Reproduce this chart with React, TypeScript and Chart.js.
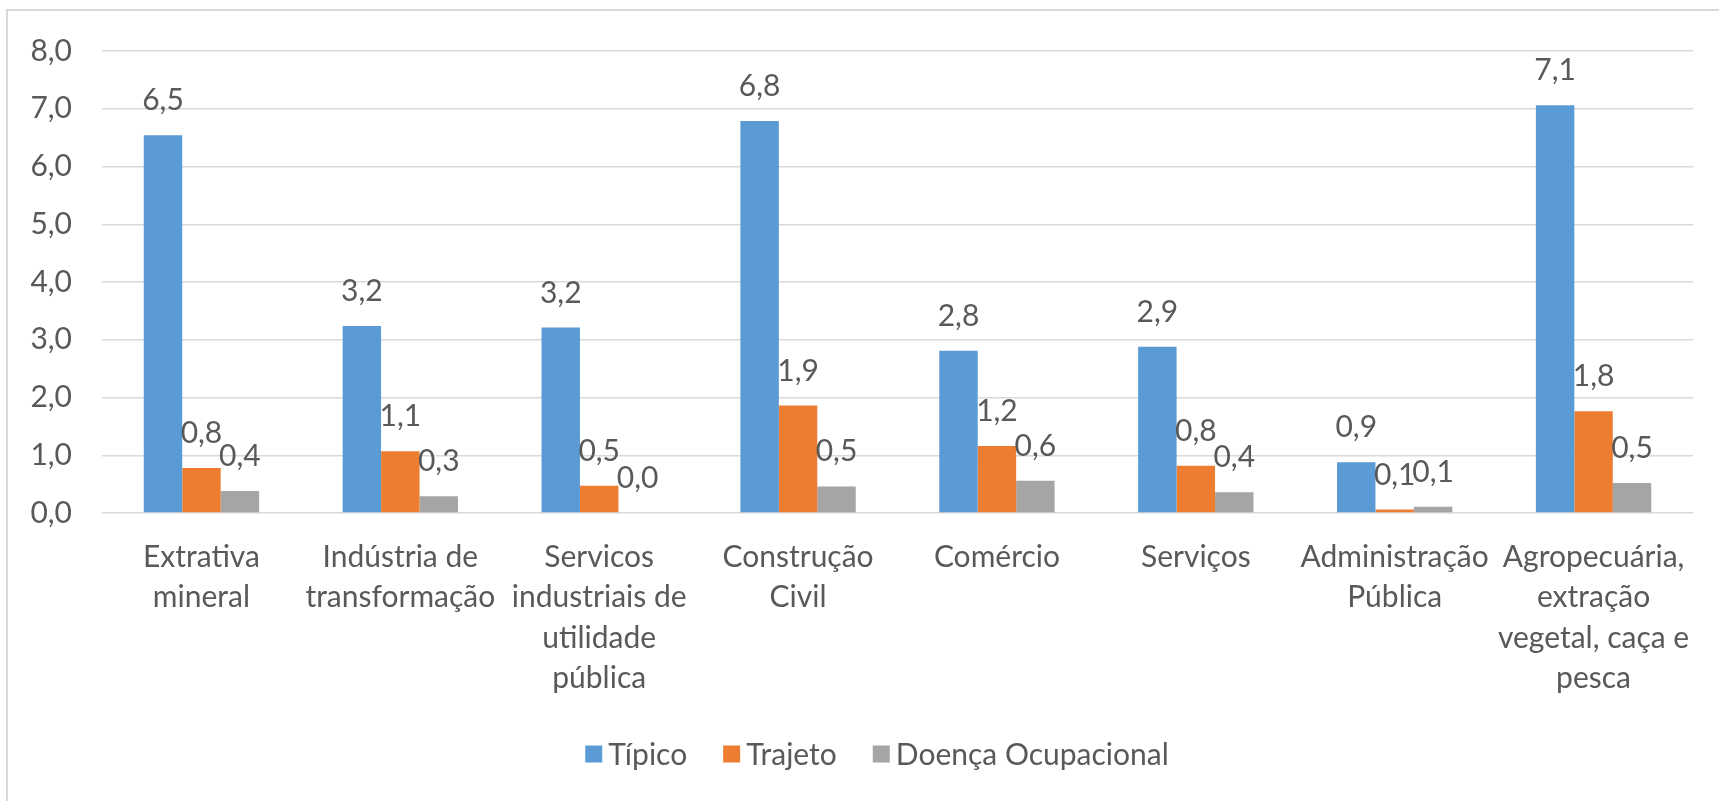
import React, { useEffect, useRef } from "react";
import { Chart, registerables } from "chart.js";

Chart.register(...registerables);

// ---- data ----
const categories: string[][] = [
  ["Extrativa", "mineral"],
  ["Indústria de", "transformação"],
  ["Servicos", "industriais de", "utilidade", "pública"],
  ["Construção", "Civil"],
  ["Comércio"],
  ["Serviços"],
  ["Administração", "Pública"],
  ["Agropecuária,", "extração", "vegetal, caça e", "pesca"],
];
const seriesNames = ["Típico", "Trajeto", "Doença Ocupacional"];
const tipico = [6.54, 3.24, 3.21, 6.79, 2.81, 2.88, 0.88, 7.06];
const trajeto = [0.78, 1.07, 0.47, 1.86, 1.16, 0.82, 0.06, 1.76];
const doenca = [0.38, 0.29, 0.0, 0.46, 0.56, 0.36, 0.11, 0.52];
const yMin = 0;
const yMax = 8;
const yStep = 1;
const seriesColors = ["#5B9BD5", "#ED7D31", "#A5A5A5"];

const FONT = "Lato, 'Open Sans', sans-serif";
const TEXT_COLOR = "#595959";
const FONT_SIZE = 30;

const fmt = (v: number) => v.toFixed(1).replace(".", ",");

const dataLabelPlugin = {
  id: "dataLabels",
  afterDatasetsDraw(chart: any) {
    const ctx = chart.ctx;
    ctx.save();
    ctx.font = `${FONT_SIZE}px ${FONT}`;
    ctx.fillStyle = TEXT_COLOR;
    ctx.textAlign = "center";
    ctx.textBaseline = "alphabetic";
    chart.data.datasets.forEach((ds: any, i: number) => {
      const meta = chart.getDatasetMeta(i);
      meta.data.forEach((el: any, j: number) => {
        ctx.fillText(fmt(ds.data[j]), el.x, el.y - 25);
      });
    });
    ctx.restore();
  },
};

const legendPlugin = {
  id: "customLegend",
  afterDraw(chart: any) {
    const ctx = chart.ctx;
    ctx.save();
    ctx.font = `${FONT_SIZE}px ${FONT}`;
    ctx.textBaseline = "middle";
    ctx.textAlign = "left";
    const box = 17;
    const gap = 6;
    const spacing = 36;
    const items = chart.data.datasets.map((ds: any) => ({
      text: ds.label as string,
      color: ds.backgroundColor as string,
      w: ctx.measureText(ds.label).width,
    }));
    const total =
      items.reduce((s: number, it: any) => s + box + gap + it.w, 0) +
      spacing * (items.length - 1);
    let x = 877 - total / 2;
    const y = 754;
    items.forEach((it: any) => {
      ctx.fillStyle = it.color;
      ctx.fillRect(x, y - box / 2, box, box);
      ctx.fillStyle = TEXT_COLOR;
      ctx.fillText(it.text, x + box + gap, y + 1);
      x += box + gap + it.w + spacing;
    });
    ctx.restore();
  },
};

export default function App() {
  const canvasRef = useRef<HTMLCanvasElement | null>(null);

  useEffect(() => {
    let chart: Chart | null = null;
    let alive = true;
    const build = () => {
      if (!canvasRef.current) return;
      if (chart) chart.destroy();
      chart = new Chart(canvasRef.current, {
        type: "bar",
        data: {
          labels: categories,
          datasets: [tipico, trajeto, doenca].map((d, i) => ({
            label: seriesNames[i],
            data: d,
            backgroundColor: seriesColors[i],
            borderWidth: 0,
            categoryPercentage: 0.58,
            barPercentage: 1,
          })),
        },
        options: {
          animation: false,
          responsive: false,
          maintainAspectRatio: false,
          layout: { padding: { left: 0, right: 26, top: 51, bottom: 0 } },
          plugins: {
            legend: { display: false },
            tooltip: { enabled: false },
          },
          scales: {
            x: {
              grid: { display: false, drawTicks: false },
              border: { display: false },
              ticks: {
                autoSkip: false,
                maxRotation: 0,
                minRotation: 0,
                padding: 24,
                color: TEXT_COLOR,
                font: { family: FONT, size: FONT_SIZE, lineHeight: 1.35 },
              },
              afterFit: (s: any) => {
                s.height = 288;
              },
            },
            y: {
              min: yMin,
              max: yMax,
              grid: { color: "#D9D9D9", lineWidth: 1.5, drawTicks: false },
              border: { display: false },
              ticks: {
                stepSize: yStep,
                padding: 30,
                color: TEXT_COLOR,
                font: { family: FONT, size: FONT_SIZE },
                callback: (v: any) => fmt(Number(v)),
              },
              afterFit: (s: any) => {
                s.width = 102;
              },
            },
          },
        },
        plugins: [dataLabelPlugin, legendPlugin],
      });
    };
    build();
    if ((document as any).fonts && (document as any).fonts.load) {
      (document as any).fonts
        .load(`${FONT_SIZE}px Lato`)
        .then(() => {
          if (alive) build();
        })
        .catch(() => {});
    }
    return () => {
      alive = false;
      if (chart) chart.destroy();
    };
  }, []);

  return (
    <div>
      <div
        style={{
          position: "fixed",
          left: 6,
          top: 9,
          width: 1800,
          height: 900,
          border: "2px solid #D9D9D9",
          boxSizing: "border-box",
        }}
      />
      <canvas
        ref={canvasRef}
        width={1719}
        height={801}
        style={{ position: "fixed", left: 0, top: 0, width: 1719, height: 801 }}
      />
    </div>
  );
}
